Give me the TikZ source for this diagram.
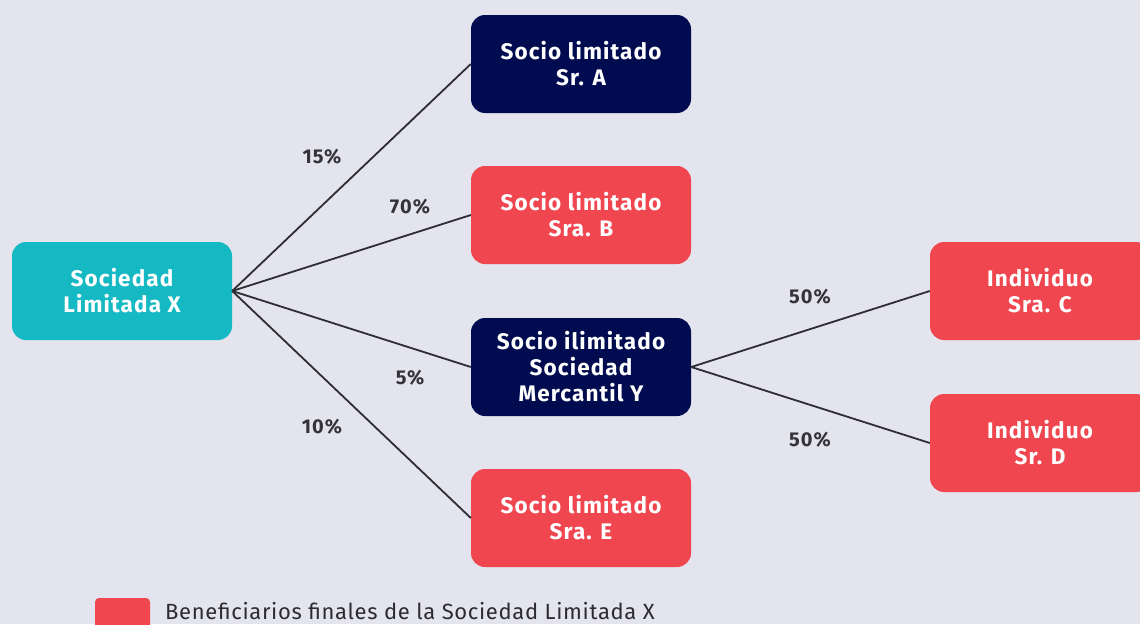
\documentclass[tikz,border=0pt]{standalone}
\usepackage{fontspec}
\setmainfont{Fira Sans}[LetterSpace=3]
\newfontfamily\boxfont{Fira Sans}[LetterSpace=5]
\definecolor{bg}{HTML}{E4E4EE}
\definecolor{teal}{HTML}{14B9C3}
\definecolor{navy}{HTML}{000C4F}
\definecolor{redb}{HTML}{F0464F}
\definecolor{linec}{HTML}{2D2D33}
\definecolor{labc}{HTML}{333338}
\begin{document}
\begin{tikzpicture}[x=1pt,y=-1pt,
  box/.style={rounded corners=14pt, minimum width=220pt, minimum height=98pt, inner sep=0pt, text=white, align=center, font=\boxfont\bfseries\fontsize{22.5}{26}\selectfont},
  conn/.style={draw=linec, line width=1.8pt},
  pct/.style={text=labc, font=\boxfont\bfseries\fontsize{20}{23}\selectfont}]
\useasboundingbox (0,0) rectangle (1140,624);
\clip (0,0) rectangle (1140,624);
\fill[bg] (0,0) rectangle (1140,624);
\node[box, fill=teal] (X) at (122,291) {Sociedad\\Limitada X};
\node[box, fill=navy] (A) at (581,64) {Socio limitado\\Sr. A};
\node[box, fill=redb] (B) at (581,215) {Socio limitado\\Sra. B};
\node[box, fill=navy] (Y) at (581,367) {Socio ilimitado\\Sociedad\\Mercantil Y};
\node[box, fill=redb] (E) at (581,518) {Socio limitado\\Sra. E};
\node[box, fill=redb] (C) at (1040,291) {Individuo\\Sra. C};
\node[box, fill=redb] (D) at (1040,443) {Individuo\\Sr. D};
\draw[conn] (X.east) -- (A.west);
\draw[conn] (X.east) -- (B.west);
\draw[conn] (X.east) -- (Y.west);
\draw[conn] (X.east) -- (E.west);
\draw[conn] (Y.east) -- (C.west);
\draw[conn] (Y.east) -- (D.west);
\node[pct] (p1) at (322,157) {15\%};
\node[pct] (p2) at (410,207) {70\%};
\node[pct] (p3) at (410,378) {5\%};
\node[pct] (p4) at (322,427) {10\%};
\node[pct] (p5) at (810,297) {50\%};
\node[pct] (p6) at (810,440) {50\%};
\node[fill=redb, rounded corners=4pt, minimum width=55pt, minimum height=40pt, inner sep=0pt] (leg) at (122.5,618) {};
\node[anchor=base west, inner sep=0pt, text=labc!85!black, font=\fontsize{22}{24}\selectfont] (legt) at (165,619) {Beneficiarios finales de la Sociedad Limitada X};
\end{tikzpicture}
\end{document}
